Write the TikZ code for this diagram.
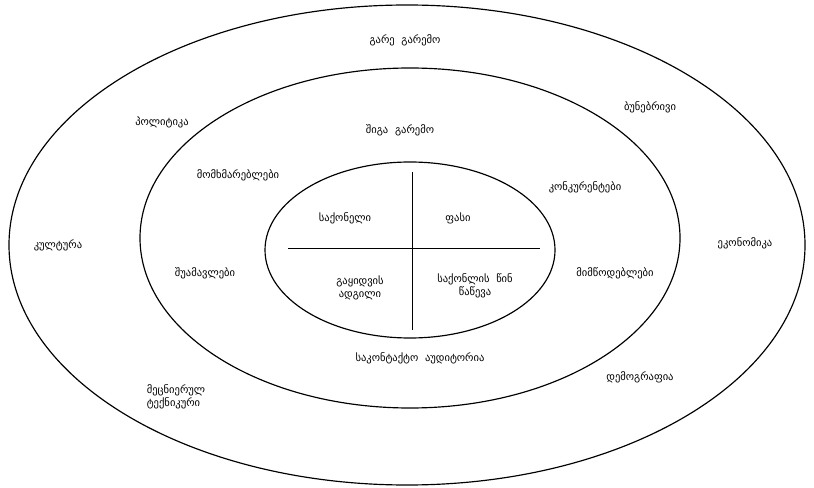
\documentclass[tikz,border=0pt]{standalone}
\usepackage{fontspec}
\setmainfont{DejaVu Sans}
\usepackage{tikz}

\tikzset{
  ring/.style={draw=black,line width=1pt},
  lbl/.style={font=\small,align=center,inner sep=1pt}
}

\begin{document}
\begin{tikzpicture}[x=0.03cm,y=-0.03cm]
  \useasboundingbox (0,0) rectangle (814,488);
  \draw[ring] (407,245) ellipse (398 and 240);
  \draw[ring] (410,238) ellipse (270 and 170);
  \draw[ring] (410,250) ellipse (145 and 88);
  \coordinate (vtop) at (412,172);
  \coordinate (vbot) at (412,330);
  \coordinate (hleft) at (288,248);
  \coordinate (hright) at (540,248);
  \draw[line width=0.8pt] (vtop) -- (vbot);
  \draw[line width=0.8pt] (hleft) -- (hright);
  % outer ring
  \node[lbl] (outer) at (405,40) {გარე \ გარემო};
  \node[lbl] (politics) at (162,122) {პოლიტიკა};
  \node[lbl] (nature) at (650,107) {ბუნებრივი};
  \node[lbl] (culture) at (58,245) {კულტურა};
  \node[lbl] (economy) at (745,243) {ეკონომიკა};
  \node[lbl,align=left] (science) at (176,397) {მეცნიერულ\\ტექნიკური};
  \node[lbl] (demography) at (640,377) {დემოგრაფია};
  % middle ring
  \node[lbl] (inner) at (400,130) {შიგა \ გარემო};
  \node[lbl] (consumers) at (238,175) {მომხმარებლები};
  \node[lbl] (rivals) at (585,187) {კონკურენტები};
  \node[lbl] (agents) at (205,273) {შუამავლები};
  \node[lbl] (suppliers) at (615,273) {მიმწოდებლები};
  \node[lbl] (audience) at (420,358) {საკონტაქტო \ აუდიტორია};
  % core
  \node[lbl] (product) at (345,218) {საქონელი};
  \node[lbl] (price) at (458,218) {ფასი};
  \node[lbl] (place) at (360,288) {გაყიდვის\\ადგილი};
  \node[lbl] (promo) at (475,286) {საქონლის \ წინ\\წაწევა};
\end{tikzpicture}
\end{document}
